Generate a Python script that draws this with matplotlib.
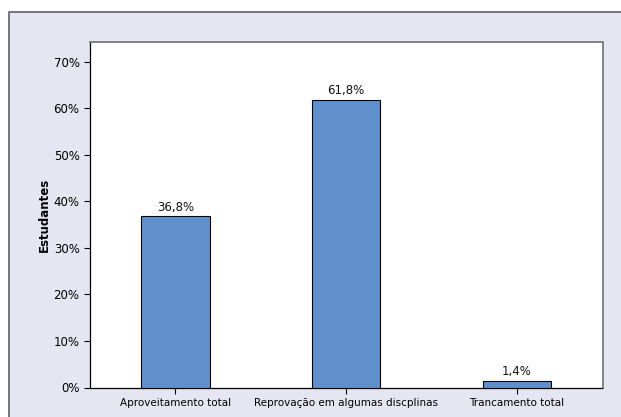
import matplotlib
matplotlib.use("Agg")
import matplotlib.pyplot as plt
from matplotlib.patches import Rectangle
from matplotlib.ticker import FuncFormatter, MultipleLocator

categories = ["Aproveitamento total", "Reprovação em algumas discplinas", "Trancamento total"]
values = [36.8, 61.8, 1.4]
labels = ["36,8%", "61,8%", "1,4%"]

W, H = 621, 417
fig = plt.figure(figsize=(W/100, H/100), dpi=100)
fig.patch.set_facecolor("white")
top = 1 - 12.5/H
fig.patches.append(Rectangle((9/W, -0.1), 1.2, top + 0.1, transform=fig.transFigure,
                             facecolor="#E6E6F2", edgecolor="#606060", linewidth=1.2, zorder=-10))

ax = fig.add_axes([90/W, 1 - 387.5/H, (602.5-90)/W, (387.5-42)/H])
ax.set_zorder(5)
ax.set_facecolor("white")
x = list(range(len(categories)))
ax.bar(x, values, width=0.4, color="#6090CB", edgecolor="black", linewidth=0.8, zorder=3)
for xi, v, lab in zip(x, values, labels):
    ax.text(xi, v + 0.6, lab, ha="center", va="bottom", fontsize=8.5, color="#111111")

ax.set_xlim(-0.5, 2.5)
ax.set_ylim(0, 74.3)
ax.yaxis.set_major_locator(MultipleLocator(10))
ax.yaxis.set_major_formatter(FuncFormatter(lambda v, p: f"{int(round(v))}%"))
ax.set_xticks(x)
ax.set_xticklabels(categories, fontsize=7.5)
ax.tick_params(axis="y", labelsize=8.5, length=4, width=0.8)
ax.tick_params(axis="x", length=4, width=0.8)
ax.set_ylabel("Estudantes", fontsize=8.5, fontweight="bold", labelpad=2)
for s in ["left", "bottom"]:
    ax.spines[s].set_color("black")
    ax.spines[s].set_linewidth(0.9)
for s in ["top", "right"]:
    ax.spines[s].set_color("#707070")
    ax.spines[s].set_linewidth(1.2)

fig.savefig("out.png", dpi=100)
